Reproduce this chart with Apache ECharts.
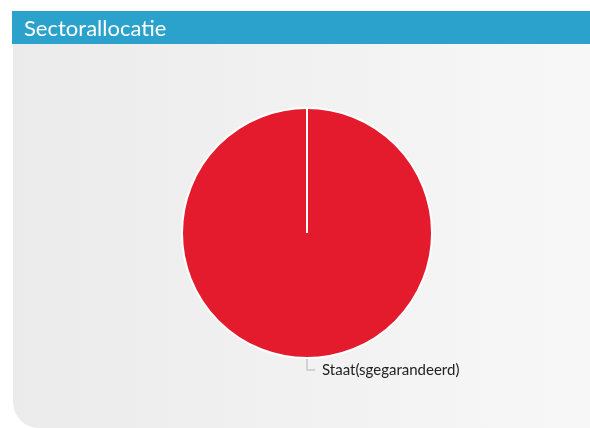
<!DOCTYPE html>
<html><head><meta charset="utf-8">
<script src="https://cdn.jsdelivr.net/npm/echarts@6/dist/echarts.min.js"></script>
<style>html,body{margin:0;padding:0;background:#fff;}#c{width:590px;height:428px;}</style>
</head><body><div id="c"></div>
<script>
const titleText = 'Sectorallocatie';
const categories = ['Staat(sgegarandeerd)'];
const values = [100];
const colors = ['#e31b2c'];

const chart = echarts.init(document.getElementById('c'), null, {renderer: 'canvas'});
const option = {
  animation: false,
  title: {
    text: titleText, left: 19, top: 13,
    textStyle: {color: '#ffffff', fontSize: 22, fontWeight: 'normal', fontFamily: 'Lato'}
  },
  graphic: [
    {type: 'rect', z: -10, shape: {x: 13, y: 44, width: 600, height: 384, r: [0, 0, 0, 26]},
     style: {fill: new echarts.graphic.LinearGradient(0, 0, 1, 0, [{offset: 0, color: '#ebebeb'}, {offset: 1, color: '#f8f8f8'}])}},
    {type: 'rect', z: -9, shape: {x: 12, y: 11, width: 600, height: 33}, style: {fill: '#2ba2cb'}}
  ],
  series: [{
    type: 'pie',
    center: [307, 233],
    radius: 125,
    startAngle: 90.01,
    clockwise: true,
    data: categories.map((n, i) => ({name: n, value: values[i], itemStyle: {color: colors[i]}})),
    itemStyle: {borderColor: '#ffffff', borderWidth: 2},
    label: {show: true, color: '#222', fontSize: 15, fontFamily: 'Lato', distanceToLabelLine: 7},
    labelLine: {show: true, length: 12, length2: 8, lineStyle: {color: '#c8c8c8', width: 1.5}},
    emphasis: {disabled: true}
  }]
};
chart.setOption(option);
// Draw slice boundary (radial edge) derived from the pie's own layout
const lay = chart.getModel().getSeriesByIndex(0).getData().getItemLayout(0);
chart.setOption({graphic: option.graphic.concat([{
  type: 'line', z: 100,
  shape: {x1: lay.cx, y1: lay.cy, x2: lay.cx + lay.r * Math.cos(lay.startAngle), y2: lay.cy + lay.r * Math.sin(lay.startAngle)},
  style: {stroke: '#ffffff', lineWidth: 2}
}])});
</script></body></html>
